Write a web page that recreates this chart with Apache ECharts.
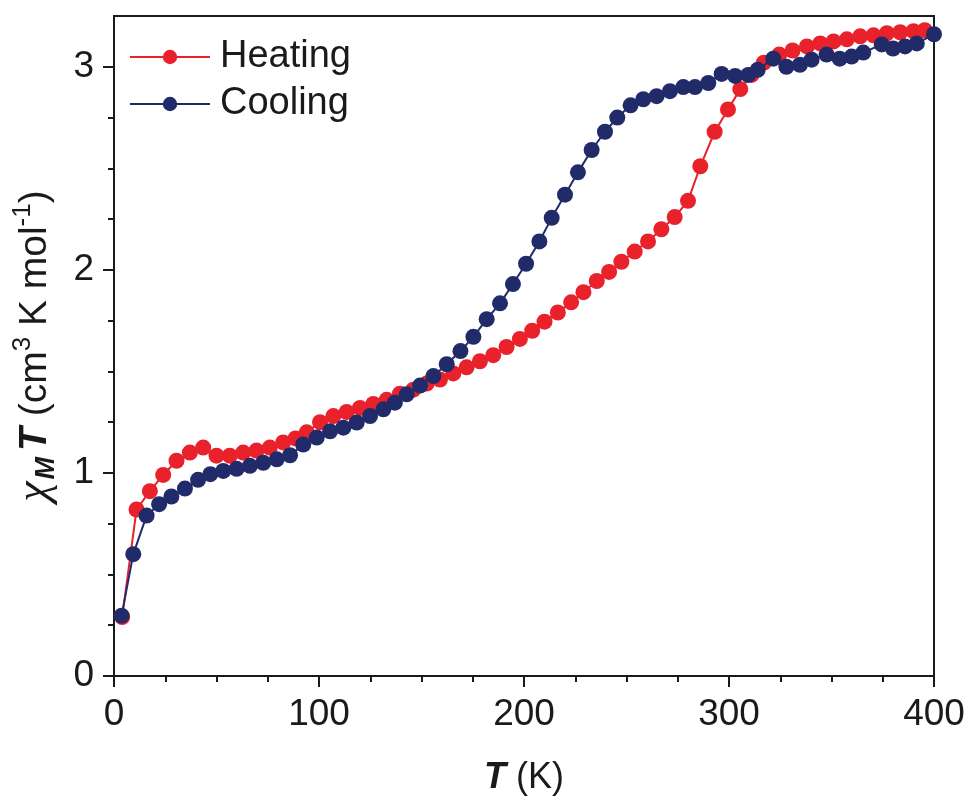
<!DOCTYPE html>
<html>
<head>
<meta charset="utf-8">
<script src="https://cdn.jsdelivr.net/npm/echarts@6/dist/echarts.min.js"></script>
<style>html,body{margin:0;padding:0;background:#fff;}#c{width:968px;height:801px;}</style>
</head>
<body>
<div id="c"></div>
<script>
const heatT = [4, 11, 17.5, 24, 30.5, 37, 43.5, 50, 56.5, 63, 69.5, 76, 82.5, 88.5, 94, 100.5, 107, 113.5, 120, 126.5, 133, 139.5, 146, 152.5, 159, 165.5, 172, 178.5, 185, 191.5, 198, 204, 210, 216.5, 223, 229, 235.5, 241.5, 247.5, 254, 260.5, 267, 273.5, 280, 286, 293, 299.5, 305.5, 311, 317, 324.5, 331, 338, 344.5, 351, 357.5, 364, 370.5, 377, 383.5, 390, 395.5];
const heatV = [0.29, 0.82, 0.91, 0.99, 1.06, 1.10, 1.125, 1.085, 1.085, 1.10, 1.11, 1.125, 1.15, 1.17, 1.20, 1.25, 1.28, 1.30, 1.32, 1.34, 1.36, 1.39, 1.41, 1.44, 1.46, 1.49, 1.52, 1.55, 1.58, 1.62, 1.66, 1.70, 1.745, 1.79, 1.84, 1.89, 1.945, 1.99, 2.04, 2.09, 2.14, 2.20, 2.26, 2.34, 2.51, 2.68, 2.79, 2.89, 2.96, 3.02, 3.06, 3.08, 3.10, 3.115, 3.125, 3.135, 3.15, 3.155, 3.165, 3.17, 3.175, 3.18];
const coolT = [3.7, 9.4, 15.9, 22, 28, 34.6, 41, 47, 53.3, 59.8, 66.3, 72.8, 79.4, 85.9, 92.3, 98.9, 105.4, 111.9, 118.4, 124.9, 131.4, 137, 142.8, 149.3, 155.8, 162.3, 169, 175.3, 181.8, 188.3, 194.6, 201, 207.5, 213.5, 220, 226.3, 233, 239.5, 245.5, 252, 258.2, 264.7, 271.2, 277.7, 283.4, 289.9, 296.4, 303, 309.4, 314, 321.6, 328, 334.6, 340.3, 347.6, 354, 359.8, 365.5, 374.5, 380, 385.9, 391.6, 400];
const coolV = [0.297, 0.60, 0.79, 0.846, 0.884, 0.923, 0.966, 0.994, 1.01, 1.02, 1.035, 1.05, 1.067, 1.087, 1.14, 1.174, 1.205, 1.223, 1.248, 1.28, 1.313, 1.346, 1.387, 1.43, 1.477, 1.535, 1.60, 1.67, 1.757, 1.835, 1.93, 2.03, 2.14, 2.256, 2.37, 2.48, 2.59, 2.68, 2.75, 2.81, 2.84, 2.855, 2.88, 2.90, 2.90, 2.92, 2.965, 2.955, 2.96, 2.985, 3.04, 3.00, 3.01, 3.035, 3.06, 3.04, 3.05, 3.07, 3.11, 3.09, 3.10, 3.115, 3.16];
const xTicks = [0, 100, 200, 300, 400];
const yTicks = [0, 1, 2, 3];
const yMinorTicks = [0.25, 0.5, 0.75, 1.25, 1.5, 1.75, 2.25, 2.5, 2.75];
const seriesNames = ['Heating', 'Cooling'];

const FONT = "'Liberation Sans', Arial, sans-serif";
const INK = '#1a1a1a';
const RED = '#e8212b';
const NAVY = '#222b6a';

const chart = echarts.init(document.getElementById('c'), null, {renderer: 'canvas'});
const zip = (a, b) => a.map((t, i) => [t, b[i]]);

chart.setOption({
  animation: false,
  backgroundColor: '#ffffff',
  grid: {left: 114, right: 34, top: 16, bottom: 124, show: true, borderColor: INK, borderWidth: 2, backgroundColor: 'transparent'},
  legend: {
    orient: 'vertical', left: 124, top: 33, itemWidth: 80, itemHeight: 18, itemGap: 9,
    textStyle: {fontFamily: FONT, fontSize: 38, color: INK, padding: [0, 0, 0, 5]},
    data: seriesNames
  },
  xAxis: {
    type: 'value', min: 0, max: 400, interval: 100,
    axisLine: {show: true, lineStyle: {color: INK, width: 2}},
    axisTick: {show: true, inside: false, length: 11, lineStyle: {color: INK, width: 2}},
    minorTick: {show: true, splitNumber: 4, length: 6, lineStyle: {color: INK, width: 2}},
    splitLine: {show: false},
    axisLabel: {fontFamily: FONT, fontSize: 37, color: INK, margin: 20, customValues: xTicks},
    name: '{bt|T}{n| (K)}', nameLocation: 'middle', nameGap: 84,
    nameTextStyle: {
      rich: {
        bt: {fontFamily: FONT, fontSize: 36, fontWeight: 'bold', fontStyle: 'italic', color: INK},
        n: {fontFamily: FONT, fontSize: 36, color: INK}
      }
    }
  },
  yAxis: [{
    type: 'value', min: 0, max: 3.25, interval: 1,
    axisLine: {show: true, lineStyle: {color: INK, width: 2}},
    axisTick: {show: true, inside: false, length: 11, lineStyle: {color: INK, width: 2}, customValues: yTicks},
    splitLine: {show: false},
    axisLabel: {fontFamily: FONT, fontSize: 37, color: INK, margin: 20, customValues: yTicks},
    name: '{chi|χ}{sub|M}{bt|T}{n| (cm}{sup|3}{n| K mol}{sup|-1}{n|)}',
    nameLocation: 'middle', nameGap: 54, nameRotate: 90,
    nameTextStyle: {
      rich: {
        chi: {fontFamily: "'Liberation Serif', serif", fontSize: 46, fontStyle: 'italic', color: INK, lineHeight: 50, verticalAlign: 'middle', padding: [0, 2, 0, 0]},
        sub: {fontFamily: FONT, fontSize: 27, fontWeight: 'bold', fontStyle: 'italic', color: INK, lineHeight: 27, verticalAlign: 'bottom', padding: [0, 6, 0, 0]},
        bt: {fontFamily: FONT, fontSize: 39, fontWeight: 'bold', fontStyle: 'italic', color: INK, lineHeight: 50, verticalAlign: 'middle'},
        n: {fontFamily: FONT, fontSize: 39, color: INK, lineHeight: 50, verticalAlign: 'middle'},
        sup: {fontFamily: FONT, fontSize: 26, color: INK, lineHeight: 26, verticalAlign: 'top'}
      }
    }
  }, {
    type: 'value', min: 0, max: 3.25, position: 'left',
    axisLine: {show: false},
    axisTick: {show: true, inside: false, length: 6, lineStyle: {color: INK, width: 2}, customValues: yMinorTicks},
    axisLabel: {show: false},
    splitLine: {show: false}
  }],
  series: [{
    name: seriesNames[0], type: 'line', data: zip(heatT, heatV),
    symbol: 'circle', symbolSize: 16, color: RED,
    lineStyle: {color: RED, width: 2}, itemStyle: {color: RED}, z: 2
  }, {
    name: seriesNames[1], type: 'line', data: zip(coolT, coolV),
    symbol: 'circle', symbolSize: 16, color: NAVY,
    lineStyle: {color: NAVY, width: 2}, itemStyle: {color: NAVY}, z: 3
  }]
});
</script>
</body>
</html>
